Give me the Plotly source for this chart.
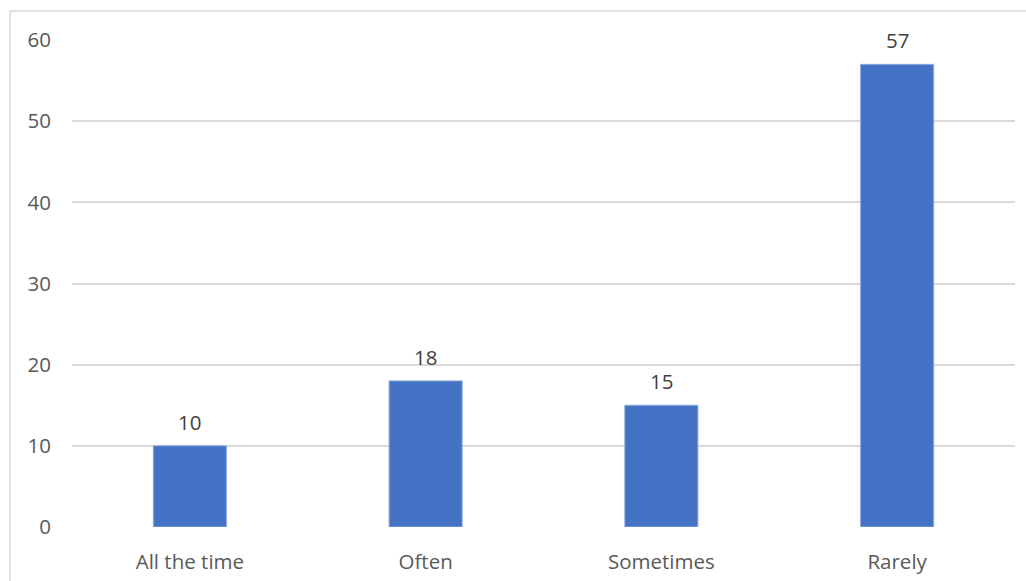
import plotly.graph_objects as go

categories = ["All the time", "Often", "Sometimes", "Rarely"]
values = [10, 18, 15, 57]
y_ticks = [0, 10, 20, 30, 40, 50, 60]

BAR_COLOR = "#4472C4"
GRID_COLOR = "#d9d9d9"
FONT = "'Open Sans', sans-serif"
FONT_SIZE = 20.5

fig = go.Figure(
    go.Bar(
        x=categories,
        y=values,
        marker=dict(color=BAR_COLOR, line=dict(color="#8faadc", width=1)),
        width=0.31,
        hoverinfo="x+y",
    )
)

# value labels sitting a little above each bar
for cat, val in zip(categories, values):
    fig.add_annotation(
        x=cat,
        y=val,
        text=str(val),
        showarrow=False,
        yanchor="bottom",
        yshift=8,
        font=dict(family=FONT, size=FONT_SIZE, color="#404040"),
    )

fig.update_layout(
    width=1026,
    height=581,
    margin=dict(l=72, r=11, t=40, b=54),
    paper_bgcolor="white",
    plot_bgcolor="white",
    showlegend=False,
    font=dict(family=FONT, size=FONT_SIZE, color="#595959"),
    xaxis=dict(
        automargin=False,
        showgrid=False,
        showline=False,
        ticks="",
        ticklabelstandoff=20,
        tickfont=dict(family=FONT, size=FONT_SIZE, color="#595959"),
    ),
    yaxis=dict(
        automargin=False,
        range=[0, 60],
        tickvals=y_ticks,
        showgrid=True,
        gridcolor=GRID_COLOR,
        gridwidth=1.5,
        zeroline=False,
        showline=False,
        ticks="",
        ticklabelstandoff=20,
        tickfont=dict(family=FONT, size=FONT_SIZE, color="#595959"),
    ),
    shapes=[
        dict(
            type="rect",
            xref="paper",
            yref="paper",
            x0=(10 - 72) / 943,
            x1=1.2,
            y0=-0.3,
            y1=(527 - 11) / 487,
            line=dict(color=GRID_COLOR, width=1.5),
            fillcolor="rgba(0,0,0,0)",
            layer="below",
        )
    ],
)

fig.write_html("out.html")
